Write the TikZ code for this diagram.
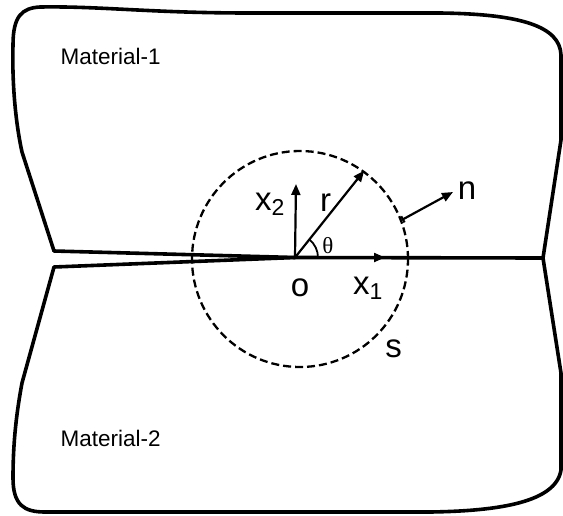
\documentclass[tikz,border=0pt]{standalone}
\usepackage{fontspec}
\setmainfont{Liberation Sans}
\newfontfamily\thetafont{Liberation Serif}
\usetikzlibrary{arrows.meta}
\tikzset{
  edgeline/.style={line width=3.6pt, line join=round, line cap=round},
  axisarrow/.style={line width=2.2pt, -{Triangle[length=11pt,width=9pt]}},
  biglabel/.style={font=\fontsize{33}{33}\selectfont, inner sep=0pt},
  matlabel/.style={font=\fontsize{22.5}{22.5}\selectfont, inner sep=0pt, anchor=base west},
}
\newcommand{\subdig}[1]{\raisebox{-5.5pt}{\fontsize{23}{23}\selectfont #1}}
\begin{document}
\begin{tikzpicture}[x=1pt,y=-1pt]
\useasboundingbox (0,0) rectangle (563,515);
% key points
\coordinate (lu) at (54,251);
\coordinate (ll) at (54,267);
\coordinate (rn) at (543,258);
\coordinate (o) at (295,257.5);
% outer boundary, upper body
\draw[edgeline] (lu) -- (22,152) .. controls (15,120) and (12,80) .. (13,45)
  .. controls (13,16) and (22,8) .. (40,7)
  .. controls (100,6) and (150,13) .. (250,13) -- (440,13)
  .. controls (520,14) and (560,26) .. (561,55) -- (561,140) -- (rn);
% outer boundary, lower body
\draw[edgeline] (ll) -- (22,383) .. controls (17,410) and (13,440) .. (13,478)
  .. controls (13,505) and (24,512) .. (45,512) -- (430,512)
  .. controls (500,511) and (556,502) .. (561,470) -- (561,373) -- (rn);
% crack faces and interface
\draw[edgeline] (lu) -- (o);
\draw[edgeline] (ll) -- (o);
\draw[edgeline] (o) -- (rn);
% dashed contour s
\node[circle, draw, line width=2.3pt, dash pattern=on 8pt off 4pt, minimum size=216pt, inner sep=0pt] (S) at (300,259) {};
% axes
\coordinate (x2end) at (296,184);
\coordinate (x1end) at (385,257.5);
\coordinate (rend) at (S.54);
\coordinate (nend) at (453,192);
\draw[axisarrow] (o) -- (x2end);
\draw[axisarrow] (o) -- (x1end);
\draw[axisarrow] (o) -- (rend);
\draw[line width=2.2pt, {Bar[width=7pt]}-{Triangle[length=11pt,width=9pt]}] (S.21) -- (nend);
% angle arc
\draw[line width=1.8pt] (o) ++(23,0) arc[start angle=0, end angle=-51, radius=23];
% labels
\node[biglabel, anchor=base west] (lx2) at (255,210) {x\subdig{2}};
\node[biglabel, anchor=base west] (lr) at (320,211) {r};
\node[font=\thetafont\fontsize{23}{23}\selectfont, inner sep=0pt] (lth) at (328,245.5) {θ};
\node[biglabel, anchor=base] (lo) at (300,296) {o};
\node[biglabel, anchor=base west] (lx1) at (353,294) {x\subdig{1}};
\node[biglabel, anchor=base] (ls) at (393.5,357) {s};
\node[biglabel, anchor=base] (ln) at (467,199) {n};
\node[matlabel] (m1) at (60.5,64) {Material-1};
\node[matlabel] (m2) at (60.5,446.5) {Material-2};
\end{tikzpicture}
\end{document}
